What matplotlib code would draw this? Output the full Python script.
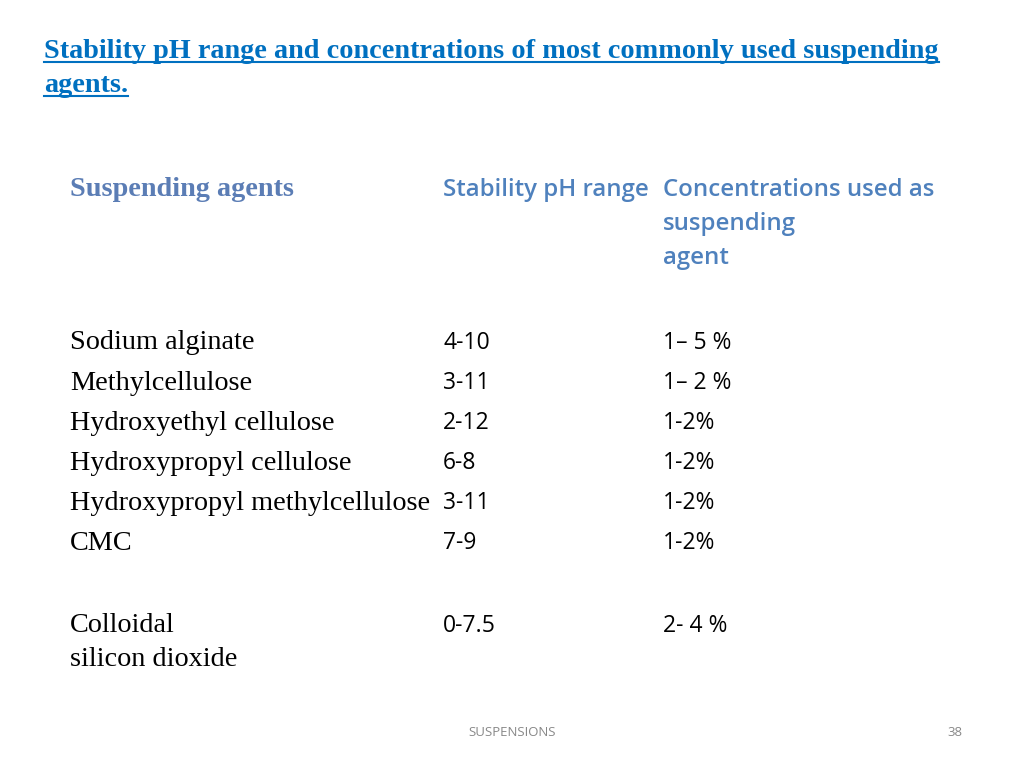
import matplotlib
matplotlib.use("Agg")
import matplotlib.pyplot as plt
from matplotlib.lines import Line2D

TITLE_LINES = ["Stability pH range and concentrations of most commonly used suspending",
               "agents."]
HEADERS = ["Suspending agents", "Stability pH range",
           ["Concentrations used as", "suspending", "agent"]]
AGENTS = [["Sodium alginate"], ["Methylcellulose"], ["Hydroxyethyl cellulose"],
          ["Hydroxypropyl cellulose"], ["Hydroxypropyl methylcellulose"], ["CMC"],
          ["Colloidal", "silicon dioxide"]]
PH_RANGES = ["4-10", "3-11", "2-12", "6-8", "3-11", "7-9", "0-7.5"]
CONCENTRATIONS = ["1\u2013 5 %", "1\u2013 2 %", "1-2%", "1-2%", "1-2%", "1-2%", "2- 4 %"]
ROW_Y = [343, 383, 423, 463, 503, 543, 626]
LINE_STEP = 34

W, H = 1024, 768
fig = plt.figure(figsize=(W / 100, H / 100), dpi=100)
fig.patch.set_facecolor("white")


def px(x, y):
    return x / W, 1 - y / H


TITLE_BLUE = "#0070C0"
HEAD_BLUE = "#4F81BD"
SERIF = "Liberation Serif"
SANS = "Open Sans"
SERIF_SIZE = 20.3
SANS_SIZE = 16.5

title_texts = []
for i, line in enumerate(TITLE_LINES):
    t = fig.text(*px(44, 52 + 34 * i), line, fontfamily=SERIF, fontweight="bold",
                 fontsize=20.3, color=TITLE_BLUE, va="center", ha="left")
    title_texts.append(t)

fig.text(*px(70, 190), HEADERS[0], fontfamily=SERIF, fontweight="bold",
         fontsize=SERIF_SIZE, color="#5B7DB5", va="center")
fig.text(*px(443, 190), HEADERS[1], fontfamily=SANS, fontweight="semibold",
         fontsize=17.3, color=HEAD_BLUE, va="center")
for i, line in enumerate(HEADERS[2]):
    fig.text(*px(663, 190 + LINE_STEP * i), line, fontfamily=SANS, fontweight="semibold",
             fontsize=17.3, color=HEAD_BLUE, va="center")

for agent, ph, conc, y in zip(AGENTS, PH_RANGES, CONCENTRATIONS, ROW_Y):
    for i, line in enumerate(agent):
        fig.text(*px(70, y + LINE_STEP * i), line, fontfamily=SERIF, fontsize=SERIF_SIZE,
                 color="black", va="center")
    fig.text(*px(443, y), ph, fontfamily=SANS, fontsize=SANS_SIZE, color="black", va="center")
    fig.text(*px(663, y), conc, fontfamily=SANS, fontsize=SANS_SIZE, color="black", va="center")

fig.text(*px(512, 733), "SUSPENSIONS", fontfamily=SANS, fontsize=9.5,
         color="#888888", va="center", ha="center")
fig.text(*px(962, 733), "38", fontfamily=SANS, fontsize=9.5,
         color="#888888", va="center", ha="right")

# underline the title (hyperlink style)
fig.canvas.draw()
renderer = fig.canvas.get_renderer()
for t in title_texts:
    bb = t.get_window_extent(renderer)
    y = bb.y0 + 3
    fig.add_artist(Line2D([bb.x0 / W, bb.x1 / W], [y / H, y / H],
                          color=TITLE_BLUE, lw=1.5, transform=fig.transFigure))

fig.savefig("out.png", dpi=100)
